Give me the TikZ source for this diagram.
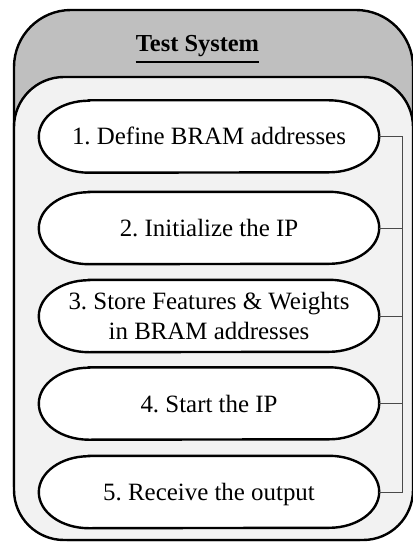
\documentclass[tikz,border=0pt]{standalone}
\usepackage{fontspec}
\setmainfont{Liberation Serif}
\frenchspacing
\pgfdeclarelayer{bg}
\pgfsetlayers{bg,main}
\definecolor{outergray}{HTML}{BFBFBF}
\definecolor{innergray}{HTML}{F2F2F2}
\definecolor{conngray}{HTML}{4A4A4A}
\begin{document}
\begin{tikzpicture}[x=1bp,y=-1bp,
  boxline/.style={draw=black,line width=2.4bp},
  stepbox/.style={minimum width=340bp,minimum height=72bp,inner sep=0pt,
    font=\fontsize{25}{30}\selectfont\frenchspacing,align=center},
  oneline/.style={text height=17bp,text depth=0pt},
  conn/.style={draw=conngray,line width=1bp},
  titletext/.style={font=\fontsize{24.5}{30}\selectfont\bfseries,inner sep=0pt,anchor=base}]
\useasboundingbox (0,0) rectangle (412,543);
\clip (0,0) rectangle (412,543);
% steps
\node[stepbox,oneline] (b1) at (209,136.5) {1. Define BRAM addresses};
\node[stepbox,oneline] (b2) at (209,228) {2. Initialize the IP};
\node[stepbox] (b3) at (209,316) {3. Store Features \& Weights\\in BRAM addresses};
\node[stepbox,oneline] (b4) at (209,403.5) {4. Start the IP};
\node[stepbox,oneline] (b5) at (209,492) {5. Receive the output};
\node[titletext] (t) at (197.5,52) {Test System};
\begin{pgfonlayer}{bg}
  \draw[boxline,fill=outergray,rounded corners=57bp] (14,10) rectangle (413,540);
  \draw[boxline,fill=innergray,rounded corners=50bp] (14,77) rectangle (413,540);
  \foreach \n in {b1,b2,b3,b4,b5}{
    \draw[boxline,fill=white] ([xshift=50bp]\n.north west) -- ([xshift=-50bp]\n.north east)
      arc[start angle=90,end angle=-90,x radius=50bp,y radius=36bp]
      -- ([xshift=50bp]\n.south west)
      arc[start angle=270,end angle=90,x radius=50bp,y radius=36bp] -- cycle;
  }
\end{pgfonlayer}
\draw[line width=1.3bp] ([yshift=-10bp]t.base west) -- ([yshift=-10bp]t.base east);
\coordinate (rail) at (402,0);
\draw[conn] (b1.east) -- (b1.east -| rail) -- (b5.east -| rail) -- (b5.east);
\foreach \n in {b2,b3,b4}{
  \draw[conn] (\n.east) -- (\n.east -| rail);
}
\end{tikzpicture}
\end{document}
